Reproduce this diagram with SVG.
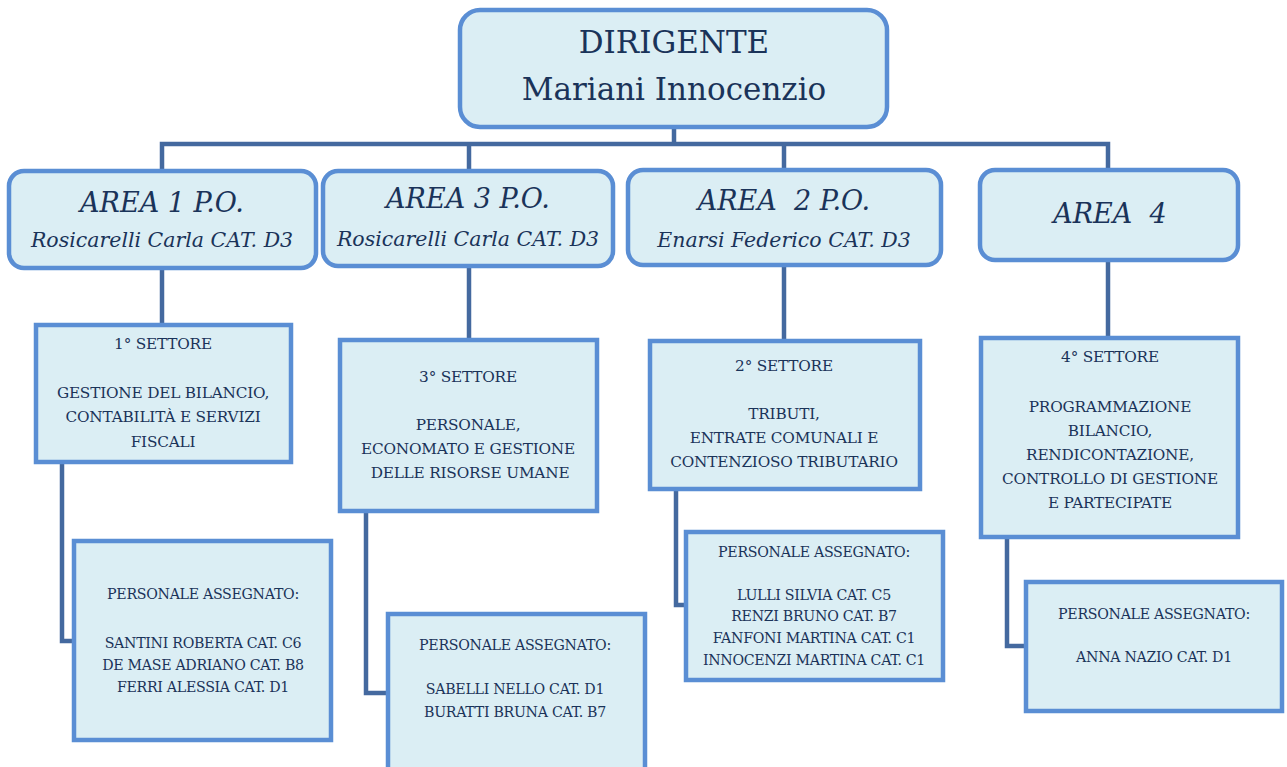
<svg xmlns="http://www.w3.org/2000/svg" width="1287" height="767" viewBox="0 0 1287 767">
<style>
.box{fill:#dbeef4;stroke:#5a8ed4;stroke-width:4.5}
.con{fill:none;stroke:#44699f;stroke-width:4.5}
text{font-family:"DejaVu Serif",serif;fill:#1a3359;text-anchor:middle;white-space:pre}
.top{font-size:31px}
.ah{font-size:27px;font-style:italic}
.as{font-size:20.5px;font-style:italic}
.s{font-size:15.3px;letter-spacing:-0.2px}
.p{font-size:14.2px;letter-spacing:-0.3px}
</style>
<rect width="1287" height="767" fill="#ffffff"/>
<g id="connectors">
<polyline class="con" points="674,127 674,144"/>
<polyline class="con" points="162,171 162,144 1108,144 1108,170"/>
<polyline class="con" points="469,144 469,171"/>
<polyline class="con" points="784,144 784,170"/>
<polyline class="con" points="162,268 162,325"/>
<polyline class="con" points="469,266 469,340"/>
<polyline class="con" points="784,266 784,341"/>
<polyline class="con" points="1108,260 1108,338"/>
<polyline class="con" points="62,462 62,641 74,641"/>
<polyline class="con" points="366,511 366,693 388,693"/>
<polyline class="con" points="676,489 676,605 686,605"/>
<polyline class="con" points="1007,537 1007,646 1026,646"/>
</g>
<g id="dirigente">
<rect class="box" x="460" y="10" width="427" height="117" rx="20"/>
<text class="top" x="674" y="53">DIRIGENTE</text>
<text class="top" x="674" y="100">Mariani Innocenzio</text>
</g>
<g id="area1">
<rect class="box" x="9" y="171" width="307" height="97" rx="15"/>
<text class="ah" x="162" y="212">AREA 1 P.O.</text>
<text class="as" x="162" y="247">Rosicarelli Carla CAT. D3</text>
</g>
<g id="area3">
<rect class="box" x="323" y="171" width="290" height="95" rx="15"/>
<text class="ah" x="468" y="208">AREA 3 P.O.</text>
<text class="as" x="468" y="246">Rosicarelli Carla CAT. D3</text>
</g>
<g id="area2">
<rect class="box" x="628" y="170" width="313" height="95" rx="15"/>
<text class="ah" x="784" y="210" xml:space="preserve">AREA  2 P.O.</text>
<text class="as" x="784" y="247">Enarsi Federico CAT. D3</text>
</g>
<g id="area4">
<rect class="box" x="980" y="170" width="258" height="90" rx="15"/>
<text class="ah" x="1110" y="223" xml:space="preserve">AREA  4</text>
</g>
<g id="settore1">
<rect class="box" x="36" y="325" width="255" height="137"/>
<text class="s" x="163" y="349">1° SETTORE</text>
<text class="s" x="163" y="398">GESTIONE DEL BILANCIO,</text>
<text class="s" x="163" y="422">CONTABILITÀ E SERVIZI</text>
<text class="s" x="163" y="447">FISCALI</text>
</g>
<g id="settore3">
<rect class="box" x="340" y="340" width="257" height="171"/>
<text class="s" x="468" y="382">3° SETTORE</text>
<text class="s" x="468" y="430">PERSONALE,</text>
<text class="s" x="468" y="454">ECONOMATO E GESTIONE</text>
<text class="s" x="470" y="478">DELLE RISORSE UMANE</text>
</g>
<g id="settore2">
<rect class="box" x="650" y="341" width="270" height="148"/>
<text class="s" x="784" y="371">2° SETTORE</text>
<text class="s" x="784" y="419">TRIBUTI,</text>
<text class="s" x="784" y="443">ENTRATE COMUNALI E</text>
<text class="s" x="784" y="467">CONTENZIOSO TRIBUTARIO</text>
</g>
<g id="settore4">
<rect class="box" x="981" y="338" width="257" height="199"/>
<text class="s" x="1110" y="362">4° SETTORE</text>
<text class="s" x="1110" y="412">PROGRAMMAZIONE</text>
<text class="s" x="1110" y="436">BILANCIO,</text>
<text class="s" x="1110" y="460">RENDICONTAZIONE,</text>
<text class="s" x="1110" y="484">CONTROLLO DI GESTIONE</text>
<text class="s" x="1110" y="508">E PARTECIPATE</text>
</g>
<g id="personale1">
<rect class="box" x="74" y="541" width="257" height="199"/>
<text class="p" x="203" y="599">PERSONALE ASSEGNATO:</text>
<text class="p" x="203" y="648">SANTINI ROBERTA CAT. C6</text>
<text class="p" x="203" y="670">DE MASE ADRIANO CAT. B8</text>
<text class="p" x="203" y="692">FERRI ALESSIA CAT. D1</text>
</g>
<g id="personale3">
<rect class="box" x="388" y="614" width="257" height="160"/>
<text class="p" x="515" y="650">PERSONALE ASSEGNATO:</text>
<text class="p" x="515" y="694">SABELLI NELLO CAT. D1</text>
<text class="p" x="515" y="717">BURATTI BRUNA CAT. B7</text>
</g>
<g id="personale2">
<rect class="box" x="686" y="532" width="257" height="148"/>
<text class="p" x="814" y="557">PERSONALE ASSEGNATO:</text>
<text class="p" x="814" y="600">LULLI SILVIA CAT. C5</text>
<text class="p" x="814" y="621">RENZI BRUNO CAT. B7</text>
<text class="p" x="814" y="643">FANFONI MARTINA CAT. C1</text>
<text class="p" x="814" y="665">INNOCENZI MARTINA CAT. C1</text>
</g>
<g id="personale4">
<rect class="box" x="1026" y="582" width="256" height="129"/>
<text class="p" x="1154" y="619">PERSONALE ASSEGNATO:</text>
<text class="p" x="1154" y="662">ANNA NAZIO CAT. D1</text>
</g>
</svg>
